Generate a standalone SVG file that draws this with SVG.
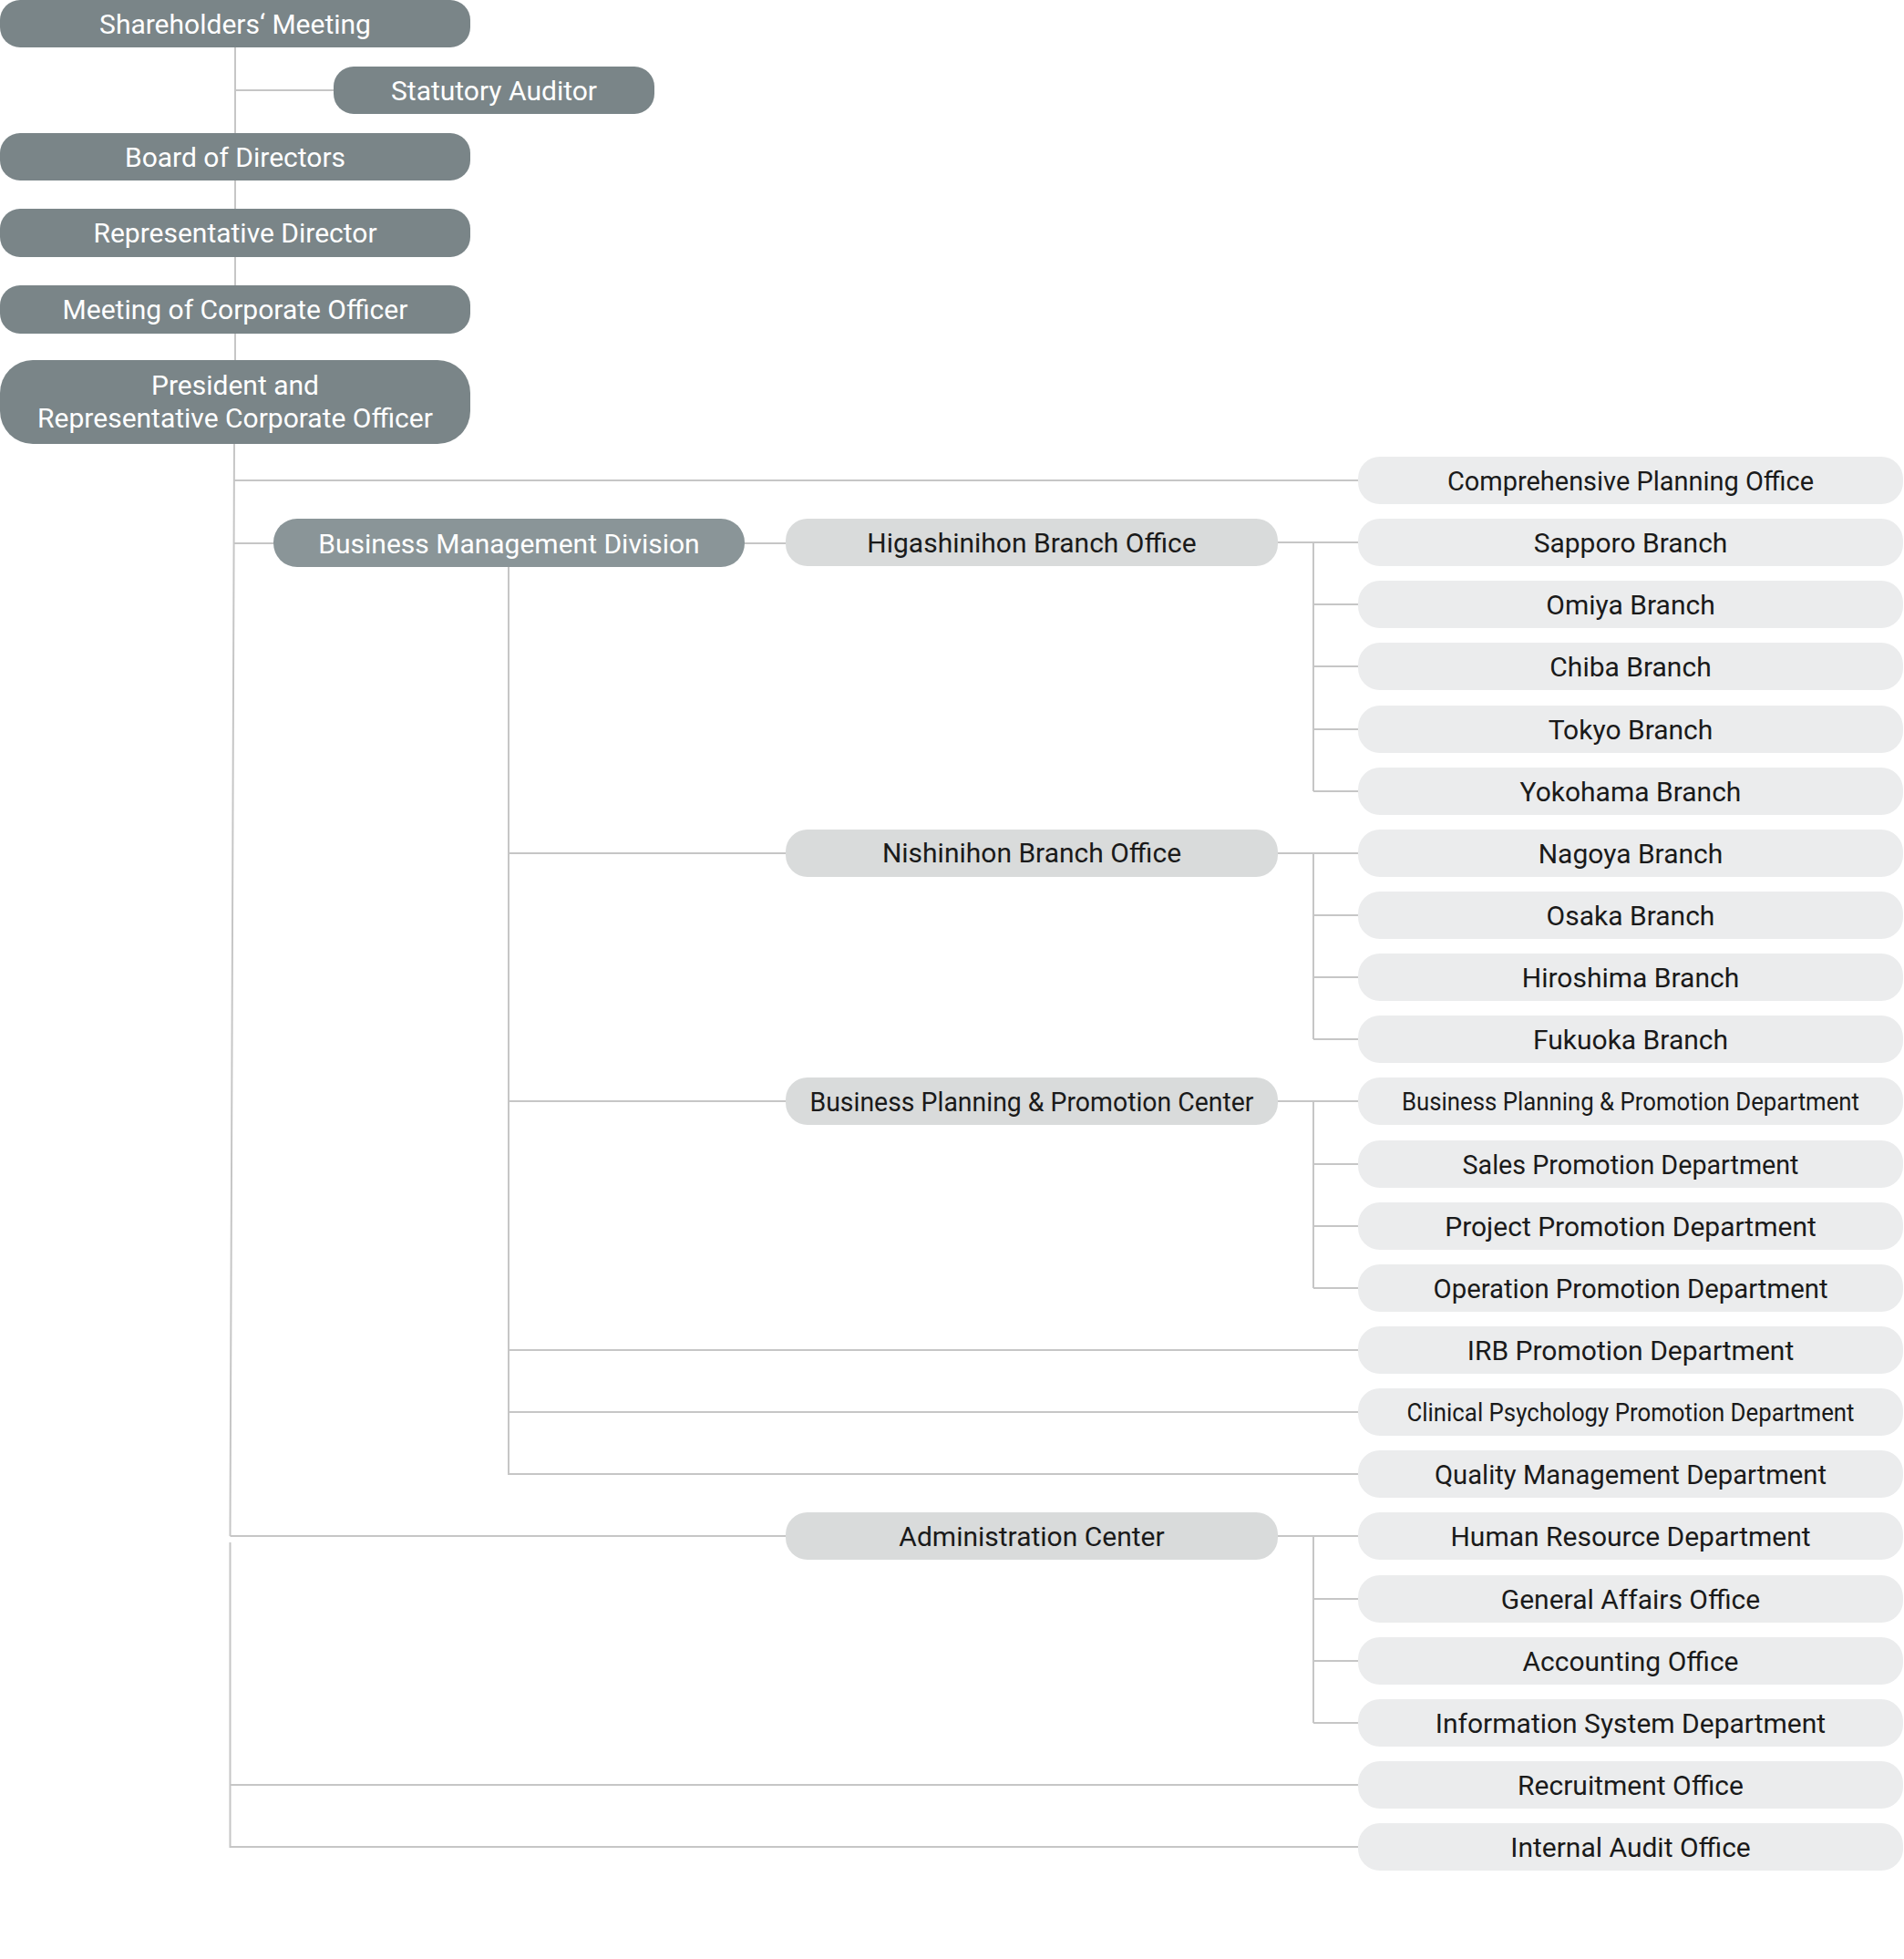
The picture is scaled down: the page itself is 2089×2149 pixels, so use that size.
<svg xmlns="http://www.w3.org/2000/svg" width="2089" height="2149" viewBox="0 0 2089 2149">
<style>
.bg{fill:#ffffff}
.dk{fill:#7a8588}
.bm{fill:#8a9598}
.md{fill:#d9dbdb}
.lt{fill:#ebeced}
.tw{font-family:Roboto,"Liberation Sans",sans-serif;font-size:30px;fill:#ffffff;text-anchor:middle}
.tb{font-family:Roboto,"Liberation Sans",sans-serif;font-size:30px;fill:#1a1a1a;text-anchor:middle}
.tc{font-size:27px}
.cn{fill:none;stroke:#c6c6c6;stroke-width:2}
</style>
<rect class="bg" x="0" y="0" width="2089" height="2149"/>
<g id="connectors" class="cn">
<path d="M258,52 V395 M258,99 H366"/>
<path d="M257,487 L252.5,1685 M252.5,1692 V2026 H1490"/>
<path d="M256.8,527 H1490"/>
<path d="M256.5,596 H300 M817,596 H862"/>
<path d="M1402,595 H1490 M1441,595 V868 M1441,663 H1490 M1441,731 H1490 M1441,800 H1490 M1441,868 H1490"/>
<path d="M558,622 V1617 H1490 M558,936 H862 M558,1208 H862 M558,1481 H1490 M558,1549 H1490"/>
<path d="M1402,936 H1490 M1441,936 V1140 M1441,1004 H1490 M1441,1072 H1490 M1441,1140 H1490"/>
<path d="M1402,1208 H1490 M1441,1208 V1413 M1441,1277 H1490 M1441,1345 H1490 M1441,1413 H1490"/>
<path d="M252.5,1685 H862 M1402,1685 H1490 M1441,1685 V1890 M1441,1754 H1490 M1441,1822 H1490 M1441,1890 H1490"/>
<path d="M252.5,1958 H1490"/>
</g>
<g id="shareholders"><rect class="dk" x="0" y="0" width="516" height="52" rx="22"/><text class="tw" x="258" y="37">Shareholders‘ Meeting</text></g>
<g id="auditor"><rect class="dk" x="366" y="73" width="352" height="52" rx="22"/><text class="tw" x="542" y="110">Statutory Auditor</text></g>
<g id="board"><rect class="dk" x="0" y="146" width="516" height="52" rx="22"/><text class="tw" x="258" y="183">Board of Directors</text></g>
<g id="repdir"><rect class="dk" x="0" y="229" width="516" height="53" rx="22"/><text class="tw" x="258" y="266">Representative Director</text></g>
<g id="meeting"><rect class="dk" x="0" y="313" width="516" height="53" rx="22"/><text class="tw" x="258" y="350">Meeting of Corporate Officer</text></g>
<g id="president"><rect class="dk" x="0" y="395" width="516" height="92" rx="36"/><text class="tw" x="258" y="433">President and</text><text class="tw" x="258" y="469">Representative Corporate Officer</text></g>
<g id="bmd"><rect class="bm" x="300" y="569" width="517" height="53" rx="26"/><text class="tw" x="558.5" y="607">Business Management Division</text></g>
<g id="higashi"><rect class="md" x="862" y="569" width="540" height="52" rx="24"/><text class="tb" x="1132" y="606">Higashinihon Branch Office</text></g>
<g id="nishi"><rect class="md" x="862" y="910" width="540" height="52" rx="24"/><text class="tb" x="1132" y="946">Nishinihon Branch Office</text></g>
<g id="bppc"><rect class="md" x="862" y="1182" width="540" height="52" rx="24"/><text class="tb" x="1132" y="1219" textLength="487" lengthAdjust="spacingAndGlyphs">Business Planning &amp; Promotion Center</text></g>
<g id="admin"><rect class="md" x="862" y="1659" width="540" height="52" rx="24"/><text class="tb" x="1132" y="1696">Administration Center</text></g>
<g id="r0"><rect class="lt" x="1490" y="501" width="598" height="52" rx="24"/><text class="tb" x="1789" y="538" textLength="402" lengthAdjust="spacingAndGlyphs">Comprehensive Planning Office</text></g>
<g id="r1"><rect class="lt" x="1490" y="569" width="598" height="52" rx="24"/><text class="tb" x="1789" y="606">Sapporo Branch</text></g>
<g id="r2"><rect class="lt" x="1490" y="637" width="598" height="52" rx="24"/><text class="tb" x="1789" y="674">Omiya Branch</text></g>
<g id="r3"><rect class="lt" x="1490" y="705" width="598" height="52" rx="24"/><text class="tb" x="1789" y="742">Chiba Branch</text></g>
<g id="r4"><rect class="lt" x="1490" y="774" width="598" height="52" rx="24"/><text class="tb" x="1789" y="811">Tokyo Branch</text></g>
<g id="r5"><rect class="lt" x="1490" y="842" width="598" height="52" rx="24"/><text class="tb" x="1789" y="879">Yokohama Branch</text></g>
<g id="r6"><rect class="lt" x="1490" y="910" width="598" height="52" rx="24"/><text class="tb" x="1789" y="947">Nagoya Branch</text></g>
<g id="r7"><rect class="lt" x="1490" y="978" width="598" height="52" rx="24"/><text class="tb" x="1789" y="1015">Osaka Branch</text></g>
<g id="r8"><rect class="lt" x="1490" y="1046" width="598" height="52" rx="24"/><text class="tb" x="1789" y="1083">Hiroshima Branch</text></g>
<g id="r9"><rect class="lt" x="1490" y="1114" width="598" height="52" rx="24"/><text class="tb" x="1789" y="1151">Fukuoka Branch</text></g>
<g id="r10"><rect class="lt" x="1490" y="1182" width="598" height="52" rx="24"/><text class="tb tc" x="1789" y="1218" textLength="502" lengthAdjust="spacingAndGlyphs">Business Planning &amp; Promotion Department</text></g>
<g id="r11"><rect class="lt" x="1490" y="1251" width="598" height="52" rx="24"/><text class="tb" x="1789" y="1288" textLength="369" lengthAdjust="spacingAndGlyphs">Sales Promotion Department</text></g>
<g id="r12"><rect class="lt" x="1490" y="1319" width="598" height="52" rx="24"/><text class="tb" x="1789" y="1356">Project Promotion Department</text></g>
<g id="r13"><rect class="lt" x="1490" y="1387" width="598" height="52" rx="24"/><text class="tb" x="1789" y="1424" textLength="433" lengthAdjust="spacingAndGlyphs">Operation Promotion Department</text></g>
<g id="r14"><rect class="lt" x="1490" y="1455" width="598" height="52" rx="24"/><text class="tb" x="1789" y="1492">IRB Promotion Department</text></g>
<g id="r15"><rect class="lt" x="1490" y="1523" width="598" height="52" rx="24"/><text class="tb tc" x="1789" y="1559" textLength="491" lengthAdjust="spacingAndGlyphs">Clinical Psychology Promotion Department</text></g>
<g id="r16"><rect class="lt" x="1490" y="1591" width="598" height="52" rx="24"/><text class="tb" x="1789" y="1628" textLength="430" lengthAdjust="spacingAndGlyphs">Quality Management Department</text></g>
<g id="r17"><rect class="lt" x="1490" y="1659" width="598" height="52" rx="24"/><text class="tb" x="1789" y="1696">Human Resource Department</text></g>
<g id="r18"><rect class="lt" x="1490" y="1728" width="598" height="52" rx="24"/><text class="tb" x="1789" y="1765">General Affairs Office</text></g>
<g id="r19"><rect class="lt" x="1490" y="1796" width="598" height="52" rx="24"/><text class="tb" x="1789" y="1833">Accounting Office</text></g>
<g id="r20"><rect class="lt" x="1490" y="1864" width="598" height="52" rx="24"/><text class="tb" x="1789" y="1901">Information System Department</text></g>
<g id="r21"><rect class="lt" x="1490" y="1932" width="598" height="52" rx="24"/><text class="tb" x="1789" y="1969">Recruitment Office</text></g>
<g id="r22"><rect class="lt" x="1490" y="2000" width="598" height="52" rx="24"/><text class="tb" x="1789" y="2037">Internal Audit Office</text></g>
</svg>
